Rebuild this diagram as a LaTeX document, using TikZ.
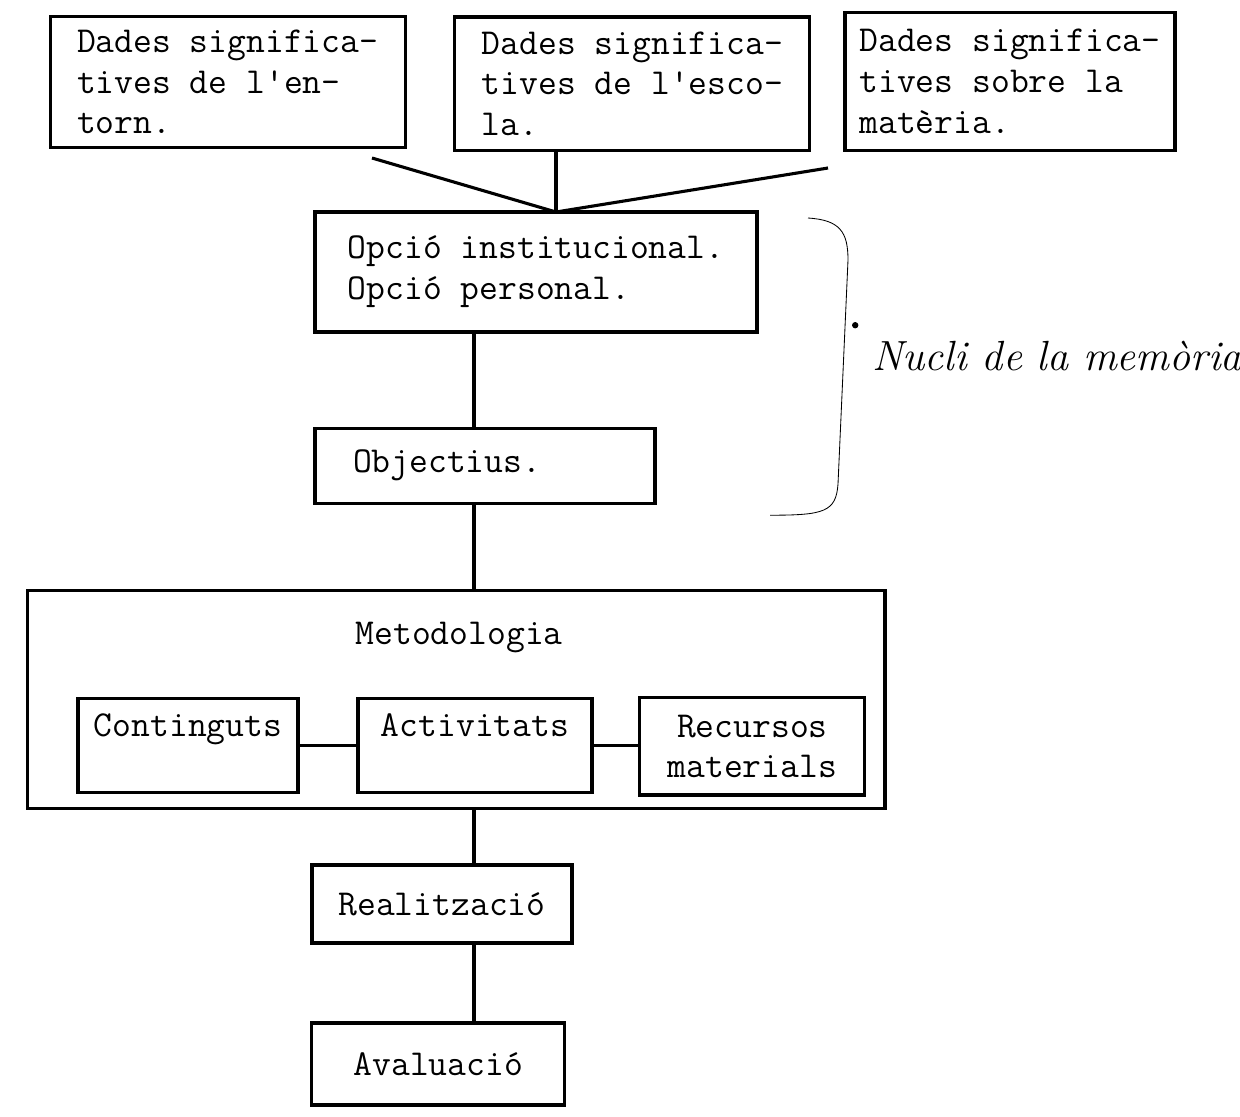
\documentclass[tikz,border=0pt]{standalone}
\usepackage{tikz}
\usetikzlibrary{calc}
\newcommand{\tyfont}{\fontsize{26}{29}\selectfont\ttfamily}
\tikzset{
  box/.style={draw, line width=2.2pt, rectangle, inner sep=0pt, font=\tyfont},
  link/.style={line width=2.2pt},
}

\begin{document}
\begin{tikzpicture}
\useasboundingbox (0,0) rectangle (31,-27.9);
\node[box, align=left, minimum width=8.875cm, minimum height=3.28cm] (entorn) at (5.69,-2.05) {Dades significa-\\tives de l'en-\\torn.};
\node[box, align=left, minimum width=8.875cm, minimum height=3.33cm] (escola) at (15.81,-2.09) {Dades significa-\\tives de l'esco-\\la.};
\node[box, align=left, minimum width=8.25cm, minimum height=3.45cm] (materia) at (25.25,-2.03) {Dades significa-\\tives sobre la\\matèria.};
\node[box, align=left, minimum width=11.05cm, minimum height=3cm] (opcio) at (13.4,-6.8) {Opció institucional.\\Opció personal.};
\node[box, align=left, text width=6.6cm, minimum width=8.5cm, minimum height=1.875cm] (objectius) at (12.125,-11.64) {Objectius.};
\node[box, minimum width=21.43cm, minimum height=5.45cm] (metod) at (11.41,-17.48) {};
\node[font=\tyfont] (metodtitle) at (11.48,-15.93) {Metodologia};
\node[box, align=center, minimum width=5.5cm, minimum height=2.35cm] (contin) at (4.7,-18.63) {Continguts\\\mbox{}};
\node[box, align=center, minimum width=5.85cm, minimum height=2.35cm] (activ) at (11.875,-18.63) {Activitats\\\mbox{}};
\node[box, align=center, minimum width=5.625cm, minimum height=2.43cm] (recursos) at (18.81,-18.66) {Recursos\\materials};
\node[box, minimum width=6.5cm, minimum height=1.95cm] (realitz) at (11.05,-22.6) {Realització};
\node[box, minimum width=6.325cm, minimum height=2.05cm] (avalu) at (10.96,-26.6) {Avaluació};

\coordinate (jn) at (13.9,-5.3);
\coordinate (e1) at (9.3,-3.95);
\coordinate (m1) at (20.7,-4.2);
\coordinate (spine) at (11.85,0);

\draw[link] (e1) -- (jn);
\draw[link] (m1) -- (jn);
\draw[link] (escola.south -| jn) -- (jn);
\draw[link] (opcio.south -| spine) -- (objectius.north -| spine);
\draw[link] (objectius.south -| spine) -- (metod.north -| spine);
\draw[link] (contin.east) -- (activ.west);
\draw[link] (activ.east) -- (activ.east -| recursos.west);
\draw[link] (metod.south -| spine) -- (realitz.north -| spine);
\draw[link] (realitz.south -| spine) -- (avalu.north -| spine);

\draw[line width=0.6pt] (20.2,-5.45) .. controls (21.0,-5.5) and (21.2,-5.8) .. (21.2,-6.5) -- (20.95,-12.1) .. controls (20.9,-12.8) and (20.6,-12.88) .. (19.25,-12.88);
\fill (21.38,-8.13) circle (0.08);
\node[anchor=base west, font=\fontsize{30}{32}\selectfont\itshape] (nota) at (21.68,-9.25) {Nucli de la memòria};
\end{tikzpicture}
\end{document}
